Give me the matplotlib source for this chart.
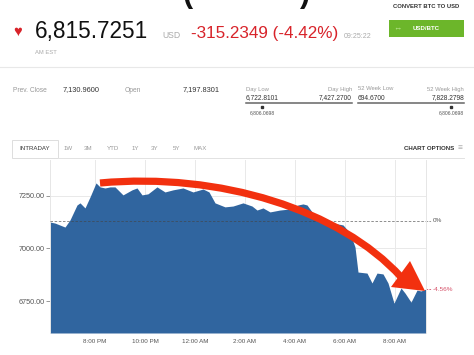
import matplotlib
matplotlib.use("Agg")
import matplotlib.pyplot as plt
from matplotlib.path import Path
from matplotlib.patches import PathPatch, Polygon, Rectangle
from matplotlib.lines import Line2D

plt.rcParams['font.family'] = ['Liberation Sans', 'DejaVu Sans']

# intraday BTC price, hours since midnight of the previous day (20 = 8:00 PM, 32 = 8:00 AM)
hours = [18.2, 18.4, 18.8, 19.0, 19.28, 19.4, 19.6, 19.8, 20.04, 20.2, 20.4, 20.6, 20.8,
         21.12, 21.48, 21.68, 21.88, 22.12, 22.48, 22.8, 23.12, 23.52, 23.92, 24.32, 24.56,
         24.8, 25.2, 25.52, 25.92, 26.28, 26.48, 26.72, 27.0, 27.4, 27.8, 28.12, 28.32,
         28.48, 28.68, 29.0, 29.32, 29.52, 29.92, 30.2, 30.4, 30.52, 30.88, 31.08, 31.28,
         31.52, 31.72, 31.96, 32.24, 32.4, 32.64, 32.88, 33.04, 33.22]
prices = [7126, 7121, 7102, 7136, 7207, 7217, 7193, 7245, 7312, 7293, 7288, 7293, 7293,
          7255, 7279, 7288, 7255, 7260, 7293, 7269, 7279, 7288, 7269, 7283, 7269,
          7217, 7198, 7202, 7217, 7202, 7183, 7193, 7174, 7183, 7188, 7207, 7212,
          7207, 7174, 7136, 7121, 7121, 7112, 7074, 7007, 6888, 6883, 6836, 6883,
          6879, 6836, 6740, 6812, 6788, 6745, 6802, 6798, 6806]

prev_close = 7130.96
y_ticks = [6750, 7000, 7250]
x_ticks = [20, 22, 24, 26, 28, 30, 32]
x_labels = ["8:00 PM", "10:00 PM", "12:00 AM", "2:00 AM", "4:00 AM", "6:00 AM", "8:00 AM"]
tabs = ["1W", "3M", "YTD", "1Y", "3Y", "5Y", "MAX"]
tab_x = [68, 88, 113, 135, 155, 177, 200]

W, H = 474, 355
fig = plt.figure(figsize=(W / 100, H / 100), dpi=100)


def fx(x):
    return x / W


def fy(y):
    return 1 - y / H


def txt(x, y, s, size, color, ha="left", va="center", **kw):
    fig.text(fx(x), fy(y), s, fontsize=size, color=color, ha=ha, va=va, **kw)


# header
txt(18, 32, "\u2665", 10.5, "#d8232a", ha="center")
txt(35, 38, "6,815.7251", 16.3, "#111111", va="baseline")
txt(162, 38, "USD", 6.2, "#aaaaaa", va="baseline")
txt(191, 38, "-315.2349 (-4.42%)", 12.3, "#d8232a", va="baseline")
txt(344, 37.5, "09:25:22", 5, "#aaaaaa", va="baseline")
txt(35, 52, "AM EST", 4.2, "#aaaaaa")
txt(183, -6, "(", 22, "#111111", fontweight="bold")
txt(300, -6, ")", 22, "#111111", fontweight="bold")

txt(426, 6, "CONVERT BTC TO USD", 4.2, "#333333", ha="center", fontweight="bold")
fig.add_artist(Rectangle((fx(389), fy(37)), fx(75), 17 / H, transform=fig.transFigure,
                         facecolor="#6cb62a", edgecolor="none"))
txt(397, 28.5, "\u2194", 6, "#b9e58f", ha="center")
txt(426, 28.5, "USD/BTC", 4.4, "white", ha="center", fontweight="bold")

fig.add_artist(Line2D([0, 1], [fy(67), fy(67)], transform=fig.transFigure, color="#e8e8e8", lw=0.8))

# stats rows
txt(13, 90, "Prev. Close", 4.8, "#999999")
txt(63, 90, "7,130.9600", 5.3, "#333333")
txt(125, 90, "Open", 4.8, "#999999")
txt(183, 90, "7,197.8301", 5.3, "#333333")

for x0, x1, lo_lab, hi_lab, lo_val, hi_val, mk in [
        (246, 352, "Day Low", "Day High", "6,722.8101", "7,427.2700", 262),
        (358, 464, "52 Week Low", "52 Week High", "694.6700", "7,828.2798", 451)]:
    txt(x0, 89, lo_lab, 4.2, "#999999")
    txt(x1, 89, hi_lab, 4.2, "#999999", ha="right")
    txt(x0, 98, lo_val, 4.8, "#333333")
    txt(x1, 98, hi_val, 4.8, "#333333", ha="right")
    fig.add_artist(Line2D([fx(x0), fx(x1)], [fy(103), fy(103)], transform=fig.transFigure,
                          color="#666666", lw=1.1))
    fig.add_artist(Line2D([fx(mk)], [fy(107)], transform=fig.transFigure, marker="s",
                          markersize=1.6, color="#333333", lw=0))
    txt(mk, 112.5, "6,806.0698", 3.6, "#555555", ha="center")

# tabs
fig.add_artist(Rectangle((fx(12), fy(158)), fx(46), 18 / H, transform=fig.transFigure,
                         facecolor="white", edgecolor="#dddddd", lw=0.7, zorder=2))
fig.add_artist(Line2D([fx(58), fx(464)], [fy(157.5), fy(157.5)], transform=fig.transFigure,
                      color="#e2e2e2", lw=0.7))
txt(35, 149, "INTRADAY", 4.4, "#333333", ha="center", zorder=3)
for t, x in zip(tabs, tab_x):
    txt(x, 149, t, 4.4, "#999999", ha="center")
txt(454, 148.5, "CHART OPTIONS", 4.4, "#333333", ha="right", fontweight="bold")
txt(460, 148.5, "\u2261", 6, "#aaaaaa", ha="center")

# chart
ax = fig.add_axes([fx(50), fy(333), fx(376), 173 / H])
ymin, ymax = 6598, 7421
ax.fill_between(hours, prices, ymin, color="#30659f", lw=0, zorder=2)
ax.set_xlim(18.2, 33.24)
ax.set_ylim(ymin, ymax)
ax.set_xticks(x_ticks)
ax.set_xticklabels(x_labels)
ax.set_yticks(y_ticks)
ax.set_yticklabels([f"{v:.2f}" for v in y_ticks])
ax.tick_params(axis="x", length=0, labelsize=4.5, labelcolor="#555555", pad=4)
ax.tick_params(axis="y", length=3, width=0.6, color="#888888", labelsize=5.2,
               labelcolor="#555555", pad=1)
ax.grid(True, color="#e9e9e9", lw=0.7, zorder=0)
for s in ["top", "bottom"]:
    ax.spines[s].set_visible(False)
for s in ["left", "right"]:
    ax.spines[s].set_color("#e6e6e6")
    ax.spines[s].set_linewidth(0.7)

ax.axhline(prev_close, color="#444444", lw=0.6, ls=(0, (3, 2)), alpha=0.7, zorder=3)
ax.plot([33.24, 33.45], [prices[-1], prices[-1]], color="#d65068", lw=0.6, ls=(0, (2, 1.5)),
        clip_on=False)
ax.plot([33.24, 33.45], [prev_close, prev_close], color="#888888", lw=0.6, ls=(0, (2, 1.5)),
        clip_on=False)
ax.text(33.5, prev_close, "0%", fontsize=4.6, color="#555555", va="center")
ax.text(33.5, prices[-1], f"{(prices[-1] / prev_close - 1) * 100:.2f}%", fontsize=4.6,
        color="#d65068", va="center")

# red annotation arrow
pts = [(100, 183), (220, 172), (340, 210), (401, 277)]
path = Path([(fx(x), fy(y)) for x, y in pts],
            [Path.MOVETO, Path.CURVE4, Path.CURVE4, Path.CURVE4])
fig.add_artist(PathPatch(path, transform=fig.transFigure, facecolor="none",
                         edgecolor="#f2300f", lw=5.2, capstyle="butt", zorder=5))
fig.add_artist(Polygon([(fx(391), fy(287)), (fx(410), fy(261)), (fx(425), fy(291))],
                       transform=fig.transFigure, facecolor="#f2300f", edgecolor="none",
                       zorder=5))

fig.savefig("out.png", dpi=100)
